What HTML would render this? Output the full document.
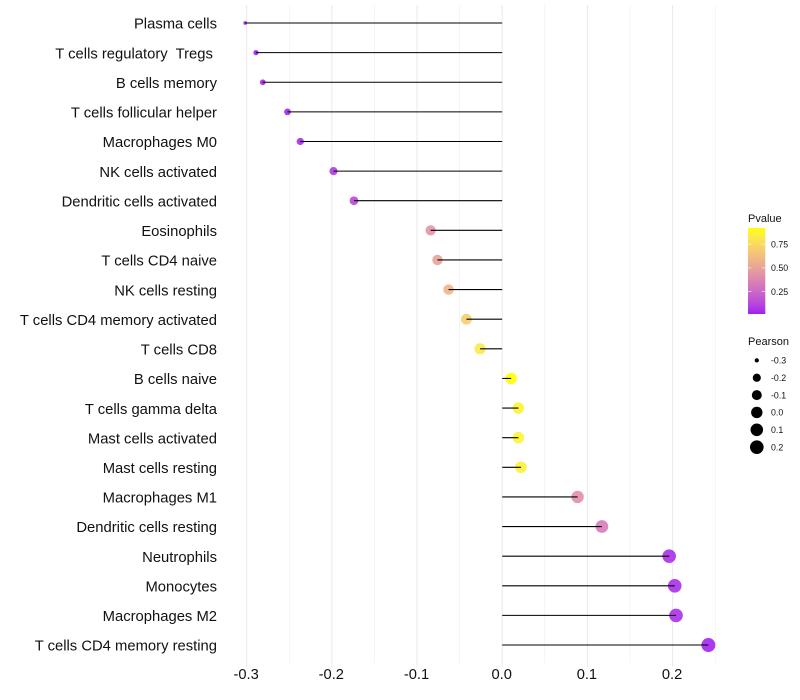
<!DOCTYPE html>
<html>
<head>
<meta charset="utf-8">
<title>Immune cell correlation lollipop chart</title>
<style>
html,body{margin:0;padding:0;background:#fff;}
svg{display:block;font-family:"Liberation Sans",sans-serif;}
</style>
</head>
<body>
<svg id="chart" width="800" height="700" viewBox="0 0 800 700" xmlns="http://www.w3.org/2000/svg">
<defs><linearGradient id="pGrad" x1="0" y1="1" x2="0" y2="0"></linearGradient></defs>
<g id="grid"></g>
<g id="xAxis"></g>
<g id="yAxis"></g>
<g id="marks"></g>
<g id="colorLegend"></g>
<g id="sizeLegend"></g>
</svg>
<script>
const categories = ["Plasma cells","T cells regulatory  Tregs ","B cells memory","T cells follicular helper","Macrophages M0","NK cells activated","Dendritic cells activated","Eosinophils","T cells CD4 naive","NK cells resting","T cells CD4 memory activated","T cells CD8","B cells naive","T cells gamma delta","Mast cells activated","Mast cells resting","Macrophages M1","Dendritic cells resting","Neutrophils","Monocytes","Macrophages M2","T cells CD4 memory resting"];
const pearson = [-0.3016,-0.289,-0.281,-0.252,-0.237,-0.198,-0.174,-0.084,-0.076,-0.063,-0.042,-0.026,0.0105,0.019,0.019,0.022,0.0885,0.117,0.196,0.2025,0.204,0.242];
const pvalue = [0.01,0.01,0.02,0.03,0.04,0.08,0.12,0.44,0.5,0.58,0.7,0.82,0.92,0.87,0.87,0.85,0.42,0.33,0.05,0.05,0.05,0.02];
const xMajorTicks = [-0.3,-0.2,-0.1,0.0,0.1,0.2];
const xMinorTicks = [-0.25,-0.15,-0.05,0.05,0.15,0.25];
const xTickLabels = ["-0.3","-0.2","-0.1","0.0","0.1","0.2"];
const colorTicks = [0.25,0.5,0.75];
const colorTickLabels = ["0.25","0.50","0.75"];
const sizeBreaks = [-0.3,-0.2,-0.1,0.0,0.1,0.2];
const sizeLabels = ["-0.3","-0.2","-0.1","0.0","0.1","0.2"];

const NS = "http://www.w3.org/2000/svg";
function mk(parent, tag, attrs, text) {
  const el = document.createElementNS(NS, tag);
  for (const k in attrs) el.setAttribute(k, attrs[k]);
  if (text !== undefined) el.textContent = text;
  parent.appendChild(el);
  return el;
}
const xScale = v => 502.2 + v * 852;
const yScale = i => 23 + i * 29.62;
const pMin = 0.01, pMax = 0.92;
const pY = p => 291.6 - (p - 0.25) * 94.8;

function rgb2lab(c) {
  let [r, g, b] = c.map(v => { v /= 255; return v > 0.04045 ? Math.pow((v + 0.055) / 1.055, 2.4) : v / 12.92; });
  let x = (0.4124 * r + 0.3576 * g + 0.1805 * b) / 0.95047;
  let y = 0.2126 * r + 0.7152 * g + 0.0722 * b;
  let z = (0.0193 * r + 0.1192 * g + 0.9505 * b) / 1.08883;
  const f = t => t > 0.008856 ? Math.cbrt(t) : 7.787 * t + 16 / 116;
  return [116 * f(y) - 16, 500 * (f(x) - f(y)), 200 * (f(y) - f(z))];
}
function lab2rgb(l) {
  const fy = (l[0] + 16) / 116, fx = l[1] / 500 + fy, fz = fy - l[2] / 200;
  const g = t => t * t * t > 0.008856 ? t * t * t : (t - 16 / 116) / 7.787;
  const x = 0.95047 * g(fx), y = g(fy), z = 1.08883 * g(fz);
  const lin = [3.2406 * x - 1.5372 * y - 0.4986 * z, -0.9689 * x + 1.8758 * y + 0.0415 * z, 0.0557 * x - 0.204 * y + 1.057 * z];
  return lin.map(v => { v = Math.max(0, Math.min(1, v)); v = v > 0.0031308 ? 1.055 * Math.pow(v, 1 / 2.4) - 0.055 : 12.92 * v; return Math.round(v * 255); });
}
const labLow = rgb2lab([160, 32, 240]), labHigh = rgb2lab([255, 255, 0]);
function colorOf(p) {
  const t = Math.max(0, Math.min(1, (p - pMin) / (pMax - pMin)));
  const c = lab2rgb(labLow.map((v, i) => v + (labHigh[i] - v) * t));
  return "rgb(" + c.join(",") + ")";
}
const sMin = Math.min(...pearson), sMax = Math.max(...pearson);
function radius(v) {
  const t = Math.max(0, (v - sMin) / (sMax - sMin));
  return 1.85 + 5.15 * Math.sqrt(t);
}

const grid = document.getElementById("grid");
xMinorTicks.forEach(v => {
  const l = mk(grid, "line", {x1: xScale(v), x2: xScale(v), y1: 5, y2: 663, stroke: "#ebebeb", "stroke-width": 0.55});
  
  
});
xMajorTicks.forEach(v => {
  const l = mk(grid, "line", {x1: xScale(v), x2: xScale(v), y1: 5, y2: 667, stroke: "#ebebeb", "stroke-width": 1.07});
  
  
});

const xAxis = document.getElementById("xAxis");
xMajorTicks.forEach((v, i) => {
  const t = mk(xAxis, "text", {x: xScale(v) - 0.5, y: 679, "text-anchor": "middle", "font-size": 14.7, fill: "#111"}, xTickLabels[i]);
  
  
});

const yAxis = document.getElementById("yAxis");
categories.forEach((c, i) => {
  const t = mk(yAxis, "text", {x: 217, y: yScale(i) + 5.7, "text-anchor": "end", "font-size": 14.8, fill: "#111", "xml:space": "preserve", style: "white-space:pre"}, c);
  
  
});

const marks = document.getElementById("marks");
categories.forEach((c, i) => {
  const pt = mk(marks, "circle", {cx: xScale(pearson[i]), cy: yScale(i), r: radius(pearson[i]), fill: colorOf(pvalue[i]), "fill-opacity": 0.9});
  
  
  const seg = mk(marks, "line", {x1: xScale(0), x2: xScale(pearson[i]), y1: yScale(i), y2: yScale(i), stroke: "#000", "stroke-width": 1.07});
  
  
});

const grad = document.getElementById("pGrad");
for (let k = 0; k <= 20; k++) {
  mk(grad, "stop", {offset: (k / 20), "stop-color": colorOf(pMin + (pMax - pMin) * k / 20)});
}
const cl = document.getElementById("colorLegend");
const cTitle = mk(cl, "text", {x: 748, y: 222, "font-size": 11, fill: "#111"}, "Pvalue");


const bar = mk(cl, "rect", {x: 748, y: 228, width: 17.3, height: 86, fill: "url(#pGrad)"});


colorTicks.forEach((p, i) => {
  const y = pY(p);
  mk(cl, "line", {x1: 748, x2: 751.5, y1: y, y2: y, stroke: "#fff", "stroke-width": 0.8, "stroke-opacity": 0.7});
  mk(cl, "line", {x1: 761.8, x2: 765.3, y1: y, y2: y, stroke: "#fff", "stroke-width": 0.8, "stroke-opacity": 0.7});
  const t = mk(cl, "text", {x: 771, y: y + 3.2, "font-size": 8.8, fill: "#111"}, colorTickLabels[i]);
  
  
});

const sl = document.getElementById("sizeLegend");
const sTitle = mk(sl, "text", {x: 748, y: 345, "font-size": 11, fill: "#111"}, "Pearson");


sizeBreaks.forEach((v, i) => {
  const y = 360.4 + i * 17.35;
  const c = mk(sl, "circle", {cx: 756.8, cy: y, r: radius(v), fill: "#000"});
  
  
  const t = mk(sl, "text", {x: 771, y: y + 3.2, "font-size": 8.8, fill: "#111"}, sizeLabels[i]);
  
  
});
</script>
</body>
</html>
